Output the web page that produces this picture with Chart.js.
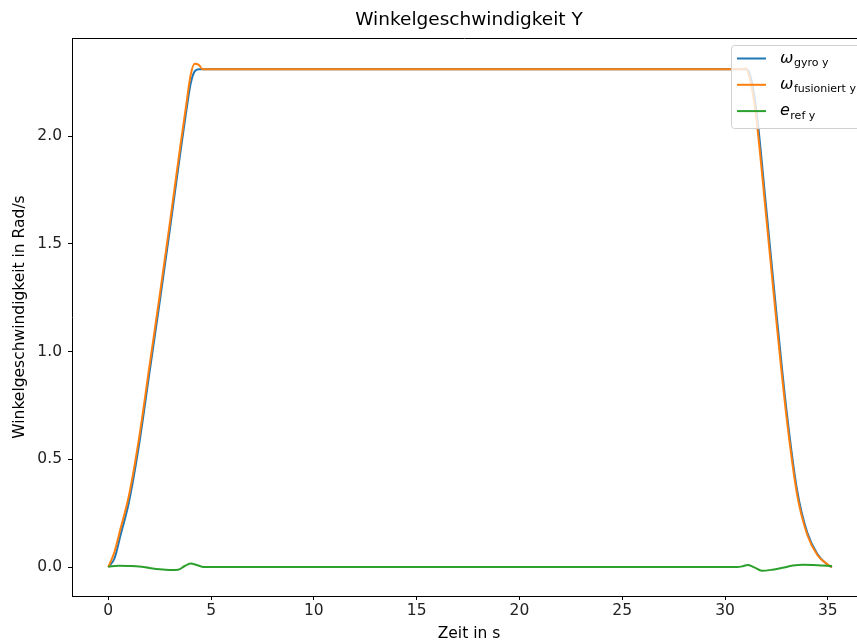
<!DOCTYPE html>
<html>
<head>
<meta charset="utf-8">
<script src="https://cdn.jsdelivr.net/npm/chart.js@4"></script>
<style>
  html, body { margin: 0; padding: 0; background: #fff; }
  #wrap { width: 857px; height: 644px; }
</style>
</head>
<body>
<div id="wrap"><canvas id="chart" width="857" height="644"></canvas></div>
<script>
// time axis (s) for gyro / fused signal
const zeit = [0, 0.3, 0.6, 1.0, 1.5, 2.0, 2.5, 3.0, 3.5, 3.8, 4.0, 4.2, 4.4, 4.6, 5.0,
  10, 15, 20, 25, 30, 30.8, 31.0, 31.2, 31.5, 32.0, 32.5, 33.0, 33.5, 34.0, 34.5, 35.0, 35.2]
const gyro = [0, 0.04, 0.15, 0.30, 0.57, 0.90, 1.23, 1.57, 1.92, 2.12, 2.24, 2.30, 2.31, 2.31, 2.31,
  2.31, 2.31, 2.31, 2.31, 2.31, 2.31, 2.31, 2.29, 2.14, 1.67, 1.18, 0.72, 0.36, 0.16, 0.06, 0.01, 0.0]
const fusioniert = [0, 0.07, 0.18, 0.33, 0.60, 0.93, 1.26, 1.60, 1.95, 2.15, 2.28, 2.335, 2.33, 2.31, 2.31,
  2.31, 2.31, 2.31, 2.31, 2.31, 2.31, 2.315, 2.27, 2.10, 1.63, 1.14, 0.69, 0.34, 0.15, 0.055, 0.012, 0.0]

// reference error signal
const zeitFehler = [0, 0.5, 1.0, 1.5, 2.0, 2.5, 3.0, 3.4, 3.7, 4.0, 4.3, 4.6, 5.0, 15, 25,
  30.6, 30.9, 31.1, 31.4, 31.8, 32.3, 32.8, 33.3, 33.8, 34.5, 35.2]
const fehler = [0.003, 0.006, 0.005, 0.003, -0.004, -0.01, -0.013, -0.012, 0.004, 0.017, 0.01, 0.001, 0.0, 0.0, 0.0,
  0.0, 0.005, 0.01, 0.0, -0.017, -0.012, -0.003, 0.007, 0.011, 0.009, 0.005]

const xTicks = [0, 5, 10, 15, 20, 25, 30, 35]
const yTicks = [0, 0.5, 1.0, 1.5, 2.0]

const legendItems = [
  { sym: 'ω', sub: 'gyro y', color: '#1f77b4' },
  { sym: 'ω', sub: 'fusioniert y', color: '#ff7f0e' },
  { sym: 'e', sub: 'ref y', color: '#2ca02c' }
]

const toPoints = (xs, ys) => xs.map((x, i) => ({ x: x, y: ys[i] }))

const decor = {
  id: 'decor',
  afterDraw(chart) {
    const ctx = chart.ctx
    const area = chart.chartArea
    ctx.save()
    // top spine
    ctx.beginPath()
    ctx.moveTo(area.left, area.top + 0.5)
    ctx.lineTo(area.right, area.top + 0.5)
    ctx.strokeStyle = '#000'
    ctx.lineWidth = 1
    ctx.stroke()

    ctx.fillStyle = '#000'
    ctx.textAlign = 'center'
    ctx.textBaseline = 'middle'
    ctx.font = '18.5px "DejaVu Sans"'
    ctx.fillText('Winkelgeschwindigkeit Y', 469, 20)
    ctx.font = '15.5px "DejaVu Sans"'
    ctx.fillText('Zeit in s', 469, 634)
    ctx.translate(20, 317)
    ctx.rotate(-Math.PI / 2)
    ctx.fillText('Winkelgeschwindigkeit in Rad/s', 0, 0)
    ctx.restore()

    // legend box (partly outside the canvas, as in the original)
    ctx.save()
    const bx = 731.5, by = 45.5, bw = 140, bh = 83
    ctx.beginPath()
    ctx.roundRect(bx, by, bw, bh, 3)
    ctx.fillStyle = 'rgba(255,255,255,0.8)'
    ctx.fill()
    ctx.strokeStyle = '#d0d0d0'
    ctx.lineWidth = 1
    ctx.stroke()
    legendItems.forEach((it, i) => {
      const y = 58.5 + i * 26.3
      ctx.beginPath()
      ctx.moveTo(737, y)
      ctx.lineTo(766, y)
      ctx.strokeStyle = it.color
      ctx.lineWidth = 2
      ctx.stroke()
      ctx.fillStyle = '#000'
      ctx.textAlign = 'left'
      ctx.textBaseline = 'alphabetic'
      ctx.font = 'italic 16px "DejaVu Sans"'
      ctx.fillText(it.sym, 780, y + 4)
      const w = ctx.measureText(it.sym).width
      ctx.font = '11px "DejaVu Sans"'
      ctx.fillText(it.sub, 780 + w + 0.5, y + 7.5)
    })
    ctx.restore()
  }
}

new Chart(document.getElementById('chart'), {
  type: 'line',
  data: {
    datasets: [
      {
        label: 'gyro y',
        data: toPoints(zeit, gyro),
        borderColor: '#1f77b4',
        borderWidth: 2,
        order: 3
      },
      {
        label: 'fusioniert y',
        data: toPoints(zeit, fusioniert),
        borderColor: '#ff7f0e',
        borderWidth: 2,
        order: 2
      },
      {
        label: 'ref y',
        data: toPoints(zeitFehler, fehler),
        borderColor: '#2ca02c',
        borderWidth: 2,
        order: 1
      }
    ]
  },
  options: {
    responsive: false,
    animation: false,
    devicePixelRatio: 1,
    layout: { padding: { top: 38, left: 0, right: 0, bottom: 0 } },
    elements: {
      point: { radius: 0 },
      line: { cubicInterpolationMode: 'monotone', fill: false }
    },
    plugins: {
      legend: { display: false },
      tooltip: { enabled: false },
      title: { display: false }
    },
    scales: {
      x: {
        type: 'linear',
        min: -1.765,
        max: 36.42,
        afterFit(s) { s.height = 48 },
        afterBuildTicks(s) { s.ticks = xTicks.map(v => ({ value: v })) },
        grid: { drawOnChartArea: false, drawTicks: true, tickLength: 4, color: '#000' },
        border: { display: true, color: '#000', width: 1 },
        ticks: { color: '#222', padding: 2, font: { family: 'DejaVu Sans', size: 15.5 }, maxRotation: 0, autoSkip: false }
      },
      y: {
        min: -0.134,
        max: 2.455,
        afterFit(s) { s.width = 72 },
        afterBuildTicks(s) { s.ticks = yTicks.map(v => ({ value: v })) },
        grid: { drawOnChartArea: false, drawTicks: true, tickLength: 4, color: '#000' },
        border: { display: true, color: '#000', width: 1 },
        ticks: {
          color: '#222', padding: 6, font: { family: 'DejaVu Sans', size: 15.5 },
          callback: v => v.toFixed(1)
        }
      }
    }
  },
  plugins: [decor]
})
</script>
</body>
</html>
